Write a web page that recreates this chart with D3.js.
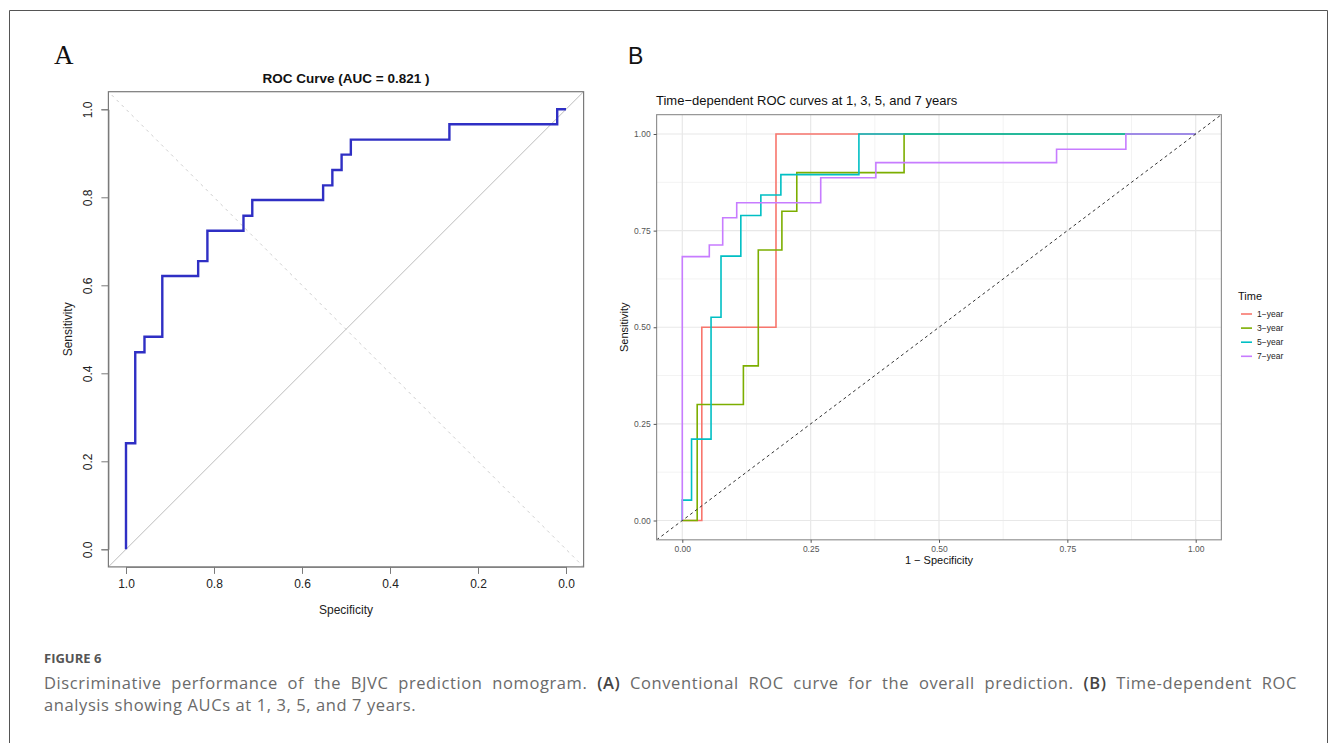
<!DOCTYPE html>
<html>
<head>
<meta charset="utf-8">
<script src="https://cdn.jsdelivr.net/npm/d3@7"></script>
<style>
  body { margin: 0; background: #fff; }
  svg { display: block; }
</style>
</head>
<body>
<div id="chart"></div>
<script>
// panel A: conventional ROC (specificity, sensitivity)
var specA = [1.0, 1.0, 0.979, 0.958, 0.9175, 0.836, 0.815, 0.733, 0.713, 0.552, 0.531, 0.510, 0.489, 0.265, 0.020, 0.0];
var sensA = [0.0, 0.241, 0.448, 0.483, 0.621, 0.655, 0.724, 0.758, 0.794, 0.827, 0.862, 0.897, 0.931, 0.966, 1.0, 1.0];
var ticksA = [1.0, 0.8, 0.6, 0.4, 0.2, 0.0];
var titleA = "ROC Curve (AUC = 0.821 )";

// panel B: time-dependent ROC (1 - specificity, sensitivity)
var timeLabels = ["1\u2212year", "3\u2212year", "5\u2212year", "7\u2212year"];
var timeColors = ["#F8766D", "#7CAE00", "#00BFC4", "#C77CFF"];
var fpr1 = [0, 0.038, 0.1825, 1];
var tpr1 = [0, 0.5, 1, 1];
var fpr3 = [0, 0.029, 0.119, 0.148, 0.194, 0.223, 0.432, 1];
var tpr3 = [0, 0.3, 0.4, 0.7, 0.8, 0.9, 1, 1];
var fpr5 = [0, 0, 0.018, 0.056, 0.0754, 0.114, 0.153, 0.192, 0.344, 1];
var tpr5 = [0, 0.0526, 0.2105, 0.526, 0.684, 0.789, 0.842, 0.895, 1, 1];
var fpr7 = [0, 0, 0.0526, 0.0787, 0.106, 0.2696, 0.377, 0.729, 0.864, 1];
var tpr7 = [0, 0.6826, 0.713, 0.7835, 0.822, 0.887, 0.926, 0.9605, 1, 1];
var ticksB = [0, 0.25, 0.5, 0.75, 1];
var tickLabelsB = ["0.00", "0.25", "0.50", "0.75", "1.00"];
var minorB = [0.125, 0.375, 0.625, 0.875];
var titleB = "Time\u2212dependent ROC curves at 1, 3, 5, and 7 years";

var W = 1333, H = 743;
var svg = d3.select("#chart").append("svg").attr("width", W).attr("height", H);
var rfont = "'Liberation Sans', Arial, sans-serif";

// figure frame (open at bottom)
svg.append("path")
  .attr("d", "M9.5," + H + "V10.5H1327.5V" + H)
  .attr("fill", "none").attr("stroke", "#555").attr("stroke-width", 1);

// ---------- Panel A ----------
svg.append("text").text("A")
  .attr("x", 54).attr("y", 64)
  .attr("font-family", "'Liberation Serif', 'Times New Roman', serif")
  .attr("font-size", 27).attr("fill", "#111");

var xA = d3.scaleLinear().domain([1, 0]).range([126, 566]);
var yA = d3.scaleLinear().domain([0, 1]).range([549.3, 109.3]);
var gA = svg.append("g");

gA.append("clipPath").attr("id", "clipA").append("rect")
  .attr("x", xA(1.04)).attr("y", yA(1.04))
  .attr("width", xA(-0.04) - xA(1.04)).attr("height", yA(-0.04) - yA(1.04));

// diagonals
gA.append("line").attr("clip-path", "url(#clipA)")
  .attr("x1", xA(1.1)).attr("y1", yA(-0.1)).attr("x2", xA(-0.1)).attr("y2", yA(1.1))
  .attr("stroke", "#bdbdbd").attr("stroke-width", 1);
gA.append("line").attr("clip-path", "url(#clipA)")
  .attr("x1", xA(1.1)).attr("y1", yA(1.1)).attr("x2", xA(-0.1)).attr("y2", yA(-0.1))
  .attr("stroke", "#cfcfcf").attr("stroke-width", 1).attr("stroke-dasharray", "3,4");

var lineA = d3.line()
  .x(function (d) { return xA(d[0]); })
  .y(function (d) { return yA(d[1]); })
  .curve(d3.curveStepAfter);
gA.append("path")
  .datum(d3.zip(specA, sensA))
  .attr("d", lineA)
  .attr("fill", "none").attr("stroke", "#2f2fc4").attr("stroke-width", 2.4);

gA.append("rect")
  .attr("x", xA(1.04)).attr("y", yA(1.04))
  .attr("width", xA(-0.04) - xA(1.04)).attr("height", yA(-0.04) - yA(1.04))
  .attr("fill", "none").attr("stroke", "#7a7a7a").attr("stroke-width", 1.2);

var axA = gA.append("g").attr("transform", "translate(0," + yA(-0.04) + ")")
  .call(d3.axisBottom(xA).tickValues(ticksA).tickFormat(d3.format(".1f")).tickSize(7).tickPadding(6));
var ayA = gA.append("g").attr("transform", "translate(" + xA(1.04) + ",0)")
  .call(d3.axisLeft(yA).tickValues(ticksA.slice().reverse()).tickFormat(d3.format(".1f")).tickSize(7));
[axA, ayA].forEach(function (a) {
  a.select(".domain").attr("stroke", "#7a7a7a");
  a.selectAll(".tick line").attr("stroke", "#7a7a7a");
  a.selectAll("text").attr("font-family", rfont).attr("font-size", 12).attr("fill", "#222");
});
ayA.selectAll(".tick text")
  .attr("transform", "rotate(-90)")
  .attr("x", 0).attr("y", -16).attr("dy", 0)
  .attr("text-anchor", "middle");

gA.append("text").text(titleA)
  .attr("x", (xA(1.04) + xA(-0.04)) / 2).attr("y", 83)
  .attr("text-anchor", "middle").attr("font-family", rfont)
  .attr("font-weight", "bold").attr("font-size", 13.5).attr("fill", "#111");
gA.append("text").text("Specificity")
  .attr("x", (xA(1.04) + xA(-0.04)) / 2).attr("y", 614)
  .attr("text-anchor", "middle").attr("font-family", rfont)
  .attr("font-size", 12).attr("fill", "#222");
gA.append("text").text("Sensitivity")
  .attr("transform", "translate(72," + yA(0.5) + ") rotate(-90)")
  .attr("text-anchor", "middle").attr("font-family", rfont)
  .attr("font-size", 12).attr("fill", "#222");

// ---------- Panel B ----------
svg.append("text").text("B")
  .attr("x", 628).attr("y", 64)
  .attr("font-family", rfont).attr("font-size", 23).attr("fill", "#111");

var xB = d3.scaleLinear().domain([0, 1]).range([682.3, 1195.7]);
var yB = d3.scaleLinear().domain([0, 1]).range([520.5, 134]);
var gB = svg.append("g");
var px0 = xB(-0.05), px1 = xB(1.05), py0 = yB(1.05), py1 = yB(-0.05);

gB.append("clipPath").attr("id", "clipB").append("rect")
  .attr("x", px0).attr("y", py0).attr("width", px1 - px0).attr("height", py1 - py0);

// grid
gB.selectAll(".minx").data(minorB).enter().append("line")
  .attr("x1", xB).attr("x2", xB).attr("y1", py0).attr("y2", py1)
  .attr("stroke", "#f3f3f3").attr("stroke-width", 1);
gB.selectAll(".miny").data(minorB).enter().append("line")
  .attr("y1", yB).attr("y2", yB).attr("x1", px0).attr("x2", px1)
  .attr("stroke", "#f3f3f3").attr("stroke-width", 1);
gB.selectAll(".majx").data(ticksB).enter().append("line")
  .attr("x1", xB).attr("x2", xB).attr("y1", py0).attr("y2", py1)
  .attr("stroke", "#e8e8e8").attr("stroke-width", 1.2);
gB.selectAll(".majy").data(ticksB).enter().append("line")
  .attr("y1", yB).attr("y2", yB).attr("x1", px0).attr("x2", px1)
  .attr("stroke", "#e8e8e8").attr("stroke-width", 1.2);

// curves
var seriesB = [
  d3.zip(fpr1, tpr1),
  d3.zip(fpr3, tpr3),
  d3.zip(fpr5, tpr5),
  d3.zip(fpr7, tpr7)
];
var lineB = d3.line()
  .x(function (d) { return xB(d[0]); })
  .y(function (d) { return yB(d[1]); })
  .curve(d3.curveStepAfter);
gB.selectAll(".roc").data(seriesB).enter().append("path")
  .attr("class", "roc")
  .attr("d", lineB)
  .attr("fill", "none")
  .attr("stroke", function (d, i) { return timeColors[i]; })
  .attr("stroke-width", 1.6);

// reference diagonal
gB.append("line").attr("clip-path", "url(#clipB)")
  .attr("x1", xB(-0.05)).attr("y1", yB(-0.05)).attr("x2", xB(1.05)).attr("y2", yB(1.05))
  .attr("stroke", "#333").attr("stroke-width", 1).attr("stroke-dasharray", "3,3");

gB.append("rect")
  .attr("x", px0).attr("y", py0).attr("width", px1 - px0).attr("height", py1 - py0)
  .attr("fill", "none").attr("stroke", "#8a8a8a").attr("stroke-width", 1.1);

var axB = gB.append("g").attr("transform", "translate(0," + py1 + ")")
  .call(d3.axisBottom(xB).tickValues(ticksB).tickFormat(function (d, i) { return tickLabelsB[i]; }).tickSize(3).tickPadding(3));
var ayB = gB.append("g").attr("transform", "translate(" + px0 + ",0)")
  .call(d3.axisLeft(yB).tickValues(ticksB).tickFormat(function (d, i) { return tickLabelsB[i]; }).tickSize(3).tickPadding(3));
[axB, ayB].forEach(function (a) {
  a.select(".domain").remove();
  a.selectAll(".tick line").attr("stroke", "#555");
  a.selectAll("text").attr("font-family", rfont).attr("font-size", 8.5).attr("fill", "#555");
});

gB.append("text").text(titleB)
  .attr("x", 656).attr("y", 105)
  .attr("font-family", rfont).attr("font-size", 13).attr("fill", "#111");
gB.append("text").text("1 \u2212 Specificity")
  .attr("x", (px0 + px1) / 2).attr("y", 564)
  .attr("text-anchor", "middle").attr("font-family", rfont)
  .attr("font-size", 11).attr("fill", "#111");
gB.append("text").text("Sensitivity")
  .attr("transform", "translate(628," + (py0 + py1) / 2 + ") rotate(-90)")
  .attr("text-anchor", "middle").attr("font-family", rfont)
  .attr("font-size", 11).attr("fill", "#111");

// legend
var leg = gB.append("g").attr("transform", "translate(1238,0)");
leg.append("text").text("Time").attr("x", 0).attr("y", 300)
  .attr("font-family", rfont).attr("font-size", 11).attr("fill", "#111");
var items = leg.selectAll(".item").data(timeLabels).enter().append("g")
  .attr("transform", function (d, i) { return "translate(0," + (314 + i * 14.1) + ")"; });
items.append("line").attr("x1", 3).attr("x2", 14).attr("y1", 0).attr("y2", 0)
  .attr("stroke", function (d, i) { return timeColors[i]; }).attr("stroke-width", 1.6);
items.append("text").text(function (d) { return d; })
  .attr("x", 19).attr("y", 3)
  .attr("font-family", rfont).attr("font-size", 8.5).attr("fill", "#222");

// ---------- Caption ----------
var cfont = "'Open Sans', Lato, sans-serif";
svg.append("text").text("FIGURE 6")
  .attr("x", 44).attr("y", 663)
  .attr("font-family", cfont).attr("font-weight", "bold")
  .attr("font-size", 13).attr("fill", "#555");

var cap1 = [
  ["Discriminative performance of the BJVC prediction nomogram. ", false],
  ["(A)", true],
  [" Conventional ROC curve for the overall prediction. ", false],
  ["(B)", true],
  [" Time-dependent ROC", false]
];
var c1 = svg.append("text").attr("x", 44).attr("y", 689)
  .attr("font-family", cfont).attr("font-size", 16.5).attr("fill", "#6a6a6a")
  .attr("letter-spacing", 0.6)
  .attr("xml:space", "preserve");
c1.selectAll("tspan").data(cap1).enter().append("tspan")
  .text(function (d) { return d[0]; })
  .attr("font-weight", function (d) { return d[1] ? 600 : null; })
  .attr("fill", function (d) { return d[1] ? "#444" : null; });
// justify the first line to the text block width
var natural = c1.node().getComputedTextLength();
var spaces = cap1.map(function (d) { return d[0]; }).join("").split(" ").length - 1;
c1.attr("word-spacing", Math.max(0, ((1297 - 44) - natural) / spaces));

svg.append("text").text("analysis showing AUCs at 1, 3, 5, and 7 years.")
  .attr("x", 44).attr("y", 711)
  .attr("font-family", cfont).attr("font-size", 16.5).attr("fill", "#6a6a6a")
  .attr("letter-spacing", 0.6);
</script>
</body>
</html>
